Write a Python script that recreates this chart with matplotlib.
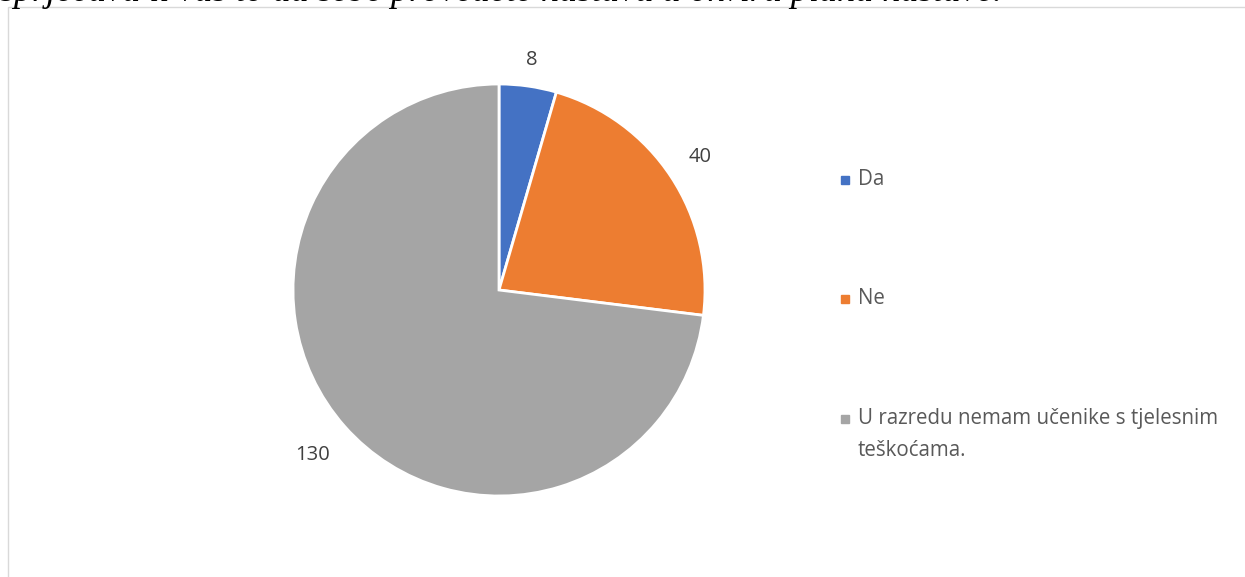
import matplotlib.pyplot as plt
from matplotlib.patches import Rectangle
import numpy as np

labels = ['Da', 'Ne', 'U razredu nemam učenike s tjelesnim\nteškoćama.']
values = [8, 40, 130]
colors = ['#4472C4', '#ED7D31', '#A5A5A5']
title_fragment = 'sprječava li vas to da sebe provedete nastavu u okviru plana nastave.'

W, H = 1245, 577
fig = plt.figure(figsize=(W / 100, H / 100), dpi=100)
plt.rcParams['font.family'] = ['Open Sans', 'DejaVu Sans']

# chart area border
fig.patches.append(Rectangle((8 / W, -0.01), 1.0, 1 - 7 / H + 0.01, transform=fig.transFigure,
                             fill=False, edgecolor='#D9D9D9', linewidth=1))

# clipped caption line from the document above
fig.text(0.0, 1 - 1.2 / H, title_fragment, family='Liberation Serif', style='italic',
         fontsize=26, va='baseline', ha='left', color='black')

cx, cy, r = 499, 290, 206
ax = fig.add_axes([(cx - r) / W, (H - cy - r) / H, 2 * r / W, 2 * r / H])
wedges, texts, autotexts = ax.pie(values, colors=colors, startangle=90, counterclock=False,
                                  radius=1, autopct=lambda p: '%d' % round(p * sum(values) / 100),
                                  pctdistance=1.17,
                                  wedgeprops=dict(edgecolor='white', linewidth=2))
# outside-end label offsets
dists = [1.13, 1.17, 1.21]
for t, w, d in zip(autotexts, wedges, dists):
    ang = np.deg2rad((w.theta1 + w.theta2) / 2)
    t.set_position((d * np.cos(ang), d * np.sin(ang)))
    t.set_fontsize(14.5)
    t.set_color('#404040')
ax.set_xlim(-1, 1)
ax.set_ylim(-1, 1)

# legend, marker next to first line of each entry
ys = [180, 299, 419]
for lab, col, y in zip(labels, colors, ys):
    fig.patches.append(Rectangle((841 / W, (H - y - 4) / H), 8 / W, 8 / H,
                                 transform=fig.transFigure, color=col))
    fig.text(858 / W, (H - y + 11) / H, lab, fontsize=14.8, color='#595959',
             va='top', ha='left', linespacing=1.7)

fig.savefig('out.png', dpi=100)
